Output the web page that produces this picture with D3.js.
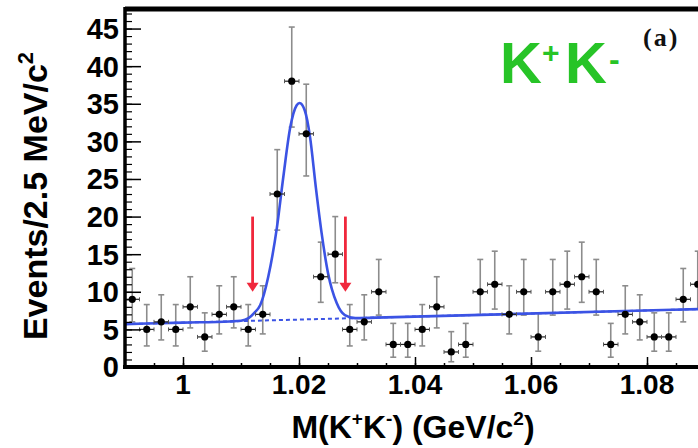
<!DOCTYPE html>
<html>
<head>
<meta charset="utf-8">
<script src="https://cdn.jsdelivr.net/npm/d3@7"></script>
<style>
  body { margin: 0; background: #fff; }
  svg { display: block; }
  text { font-family: "Liberation Sans", Arial, sans-serif; font-weight: bold; }
</style>
</head>
<body>
<svg id="chart" width="698" height="448"></svg>
<script>
// Data (2.5 MeV bins)
const massBins = [0.99125, 0.99375, 0.99625, 0.99875, 1.00125, 1.00375, 1.00625, 1.00875,
  1.01125, 1.01375, 1.01625, 1.01875, 1.02125, 1.02375, 1.02625, 1.02875, 1.03125, 1.03375,
  1.03625, 1.03875, 1.04125, 1.04375, 1.04625, 1.04875, 1.05125, 1.05375, 1.05625, 1.05875,
  1.06125, 1.06375, 1.06625, 1.06875, 1.07125, 1.07375, 1.07625, 1.07875, 1.08125, 1.08375,
  1.08625, 1.08875]
const counts = [9, 5, 6, 5, 8, 4, 7, 8, 5, 7, 23, 38, 31, 12, 15, 5, 6, 10, 3, 3,
  5, 8, 2, 3, 10, 11, 7, 10, 4, 10, 11, 12, 10, 3, 7, 6, 4, 4, 9, 11]
const errHigh = [4.1, 3.3, 3.6, 3.3, 4.0, 3.2, 3.8, 4.0, 3.3, 3.8, 5.9, 7.2, 6.6, 4.6, 5.0, 3.3, 3.6, 4.3, 2.8, 2.8,
  3.3, 4.0, 2.7, 2.8, 4.3, 4.4, 3.8, 4.3, 3.2, 4.3, 4.4, 4.6, 4.3, 2.8, 3.8, 3.6, 3.2, 3.2, 4.1, 4.4]
const errLow = [3.0, 2.2, 2.4, 2.2, 2.8, 1.9, 2.6, 2.8, 2.2, 2.6, 4.8, 6.1, 5.6, 3.4, 3.8, 2.2, 2.4, 3.1, 1.7, 1.7,
  2.2, 2.8, 1.3, 1.7, 3.1, 3.3, 2.6, 3.1, 1.9, 3.1, 3.3, 3.4, 3.1, 1.7, 2.6, 2.4, 1.9, 1.9, 3.0, 3.3]
const binWidth = 0.0025

// fit curve (total) read at points along the picture
const fitMass = [0.99, 1.0, 1.008, 1.010, 1.0113, 1.0123, 1.0133, 1.0147, 1.0162, 1.0173, 1.0185,
  1.0196, 1.0201, 1.0210, 1.0219, 1.0229, 1.0239, 1.0250, 1.0265, 1.0279, 1.0297, 1.035, 1.09]
const fitValue = [5.7, 5.9, 6.05, 6.15, 6.5, 7.2, 8.2, 12.0, 18.6, 25.3, 31.9,
  34.8, 35.1, 34.1, 30.6, 23.9, 17.8, 12.5, 8.5, 6.9, 6.5, 6.6, 7.72]
// background (dashed)
const bgMass = [0.99, 1.09]
const bgValue = [5.7, 7.72]

// signal window arrows
const arrowMass = [1.012, 1.028]
const arrowTop = 20
const arrowTip = 10

const xTicks = [1.0, 1.02, 1.04, 1.06, 1.08]
const yTicks = [0, 5, 10, 15, 20, 25, 30, 35, 40, 45]

const blue = "#3b53e4"
const red = "#f0283c"
const green = "#27c427"

const svg = d3.select("#chart")

const x = d3.scaleLinear().domain([0.99, 1.09]).range([125, 705])
const y = d3.scaleLinear().domain([0, 47.6]).range([367, 9])

svg.append("clipPath").attr("id", "plot-clip")
  .append("rect").attr("x", 125).attr("y", 9).attr("width", 580).attr("height", 358)

const plot = svg.append("g").attr("clip-path", "url(#plot-clip)")

// y axis ticks (inward)
const yAxis = d3.axisRight(y).tickValues(yTicks).tickSize(16).tickFormat("")
svg.append("g").attr("transform", "translate(125,0)").call(yAxis)
  .call(g => g.select(".domain").remove())
  .selectAll("line").attr("stroke", "#000").attr("stroke-width", 1.5)
const yMinor = d3.axisRight(y).tickValues(d3.range(0, 48, 1)).tickSize(7).tickFormat("")
svg.append("g").attr("transform", "translate(125,0)").call(yMinor)
  .call(g => g.select(".domain").remove())
  .selectAll("line").attr("stroke", "#000").attr("stroke-width", 1.2)

// x axis ticks (inward)
const xAxis = d3.axisTop(x).tickValues(xTicks).tickSize(10).tickFormat("")
svg.append("g").attr("transform", "translate(0,367)").call(xAxis)
  .call(g => g.select(".domain").remove())
  .selectAll("line").attr("stroke", "#000").attr("stroke-width", 1.5)
const xMinor = d3.axisTop(x).tickValues(d3.range(0.995, 1.09, 0.005)).tickSize(4).tickFormat("")
svg.append("g").attr("transform", "translate(0,367)").call(xMinor)
  .call(g => g.select(".domain").remove())
  .selectAll("line").attr("stroke", "#000").attr("stroke-width", 1.5)

// tick labels
svg.append("g").selectAll("text").data(yTicks).join("text")
  .attr("x", 119).attr("y", d => y(d)).attr("dy", "0.36em")
  .attr("text-anchor", "end").attr("font-size", 29)
  .text(d => d)
svg.append("g").selectAll("text").data(xTicks).join("text")
  .attr("x", d => x(d)).attr("y", 394)
  .attr("text-anchor", "middle").attr("font-size", 28)
  .text(d => d3.format("")(d))

// error bars (vertical, grey)
const bars = plot.append("g").attr("stroke", "#8c8c8c").attr("stroke-width", 1.6)
massBins.forEach((m, i) => {
  const cx = x(m)
  const top = y(counts[i] + errHigh[i])
  const bot = y(counts[i] - errLow[i])
  bars.append("line").attr("x1", cx).attr("x2", cx).attr("y1", top).attr("y2", bot)
  bars.append("line").attr("x1", cx - 3).attr("x2", cx + 3).attr("y1", top).attr("y2", top)
  bars.append("line").attr("x1", cx - 3).attr("x2", cx + 3).attr("y1", bot).attr("y2", bot)
})

// fit lines
const line = d3.line().x(d => x(d[0])).y(d => y(d[1]))
plot.append("path")
  .datum(d3.zip(bgMass, bgValue))
  .attr("d", line)
  .attr("fill", "none").attr("stroke", blue).attr("stroke-width", 2)
  .attr("stroke-dasharray", "4,3")
plot.append("path")
  .datum(d3.zip(fitMass, fitValue))
  .attr("d", line.curve(d3.curveMonotoneX))
  .attr("fill", "none").attr("stroke", blue).attr("stroke-width", 2.6)

// horizontal bars and markers
const marks = plot.append("g")
massBins.forEach((m, i) => {
  const x0 = x(m - binWidth / 2), x1 = x(m + binWidth / 2), cy = y(counts[i])
  marks.append("line").attr("x1", x0).attr("x2", x1).attr("y1", cy).attr("y2", cy)
    .attr("stroke", "#222").attr("stroke-width", 1.2)
  marks.append("line").attr("x1", x0).attr("x2", x0).attr("y1", cy - 2).attr("y2", cy + 2)
    .attr("stroke", "#555").attr("stroke-width", 1)
  marks.append("line").attr("x1", x1).attr("x2", x1).attr("y1", cy - 2).attr("y2", cy + 2)
    .attr("stroke", "#555").attr("stroke-width", 1)
  marks.append("circle").attr("cx", x(m)).attr("cy", cy).attr("r", 3.6).attr("fill", "#000")
})

// arrows
arrowMass.forEach(m => {
  const ax = x(m)
  svg.append("line").attr("x1", ax).attr("x2", ax)
    .attr("y1", y(arrowTop)).attr("y2", y(arrowTip) - 6)
    .attr("stroke", red).attr("stroke-width", 2.8)
  svg.append("path")
    .attr("d", `M${ax - 6},${y(arrowTip) - 9} L${ax + 6},${y(arrowTip) - 9} L${ax},${y(arrowTip)} Z`)
    .attr("fill", red)
})

// frame
svg.append("line").attr("x1", 125).attr("x2", 698).attr("y1", 9).attr("y2", 9)
  .attr("stroke", "#000").attr("stroke-width", 5)
svg.append("line").attr("x1", 125).attr("x2", 125).attr("y1", 7).attr("y2", 369)
  .attr("stroke", "#000").attr("stroke-width", 3.5)
svg.append("line").attr("x1", 123).attr("x2", 698).attr("y1", 367).attr("y2", 367)
  .attr("stroke", "#000").attr("stroke-width", 4)

// axis titles
const yt = svg.append("text")
  .attr("transform", "translate(47,196) rotate(-90)")
  .attr("text-anchor", "middle").attr("font-size", 34)
yt.append("tspan").text("Events/2.5 MeV/c")
yt.append("tspan").attr("font-size", 22).attr("dy", -14).text("2")

const xt = svg.append("text")
  .attr("x", 413).attr("y", 438).attr("text-anchor", "middle").attr("font-size", 32)
xt.append("tspan").text("M(K")
xt.append("tspan").attr("font-size", 19).attr("dy", -13).text("+")
xt.append("tspan").attr("dy", 13).text("K")
xt.append("tspan").attr("font-size", 19).attr("dy", -13).text("-")
xt.append("tspan").attr("dy", 13).text(") (GeV/c")
xt.append("tspan").attr("font-size", 19).attr("dy", -13).text("2")
xt.append("tspan").attr("dy", 13).text(")")

// K+K- label
svg.append("text").attr("x", 500).attr("y", 83).attr("font-size", 58).attr("fill", green).text("K")
svg.append("text").attr("x", 542).attr("y", 63).attr("font-size", 30).attr("fill", green).text("+")
svg.append("text").attr("x", 565).attr("y", 83).attr("font-size", 58).attr("fill", green).text("K")
svg.append("text").attr("x", 609).attr("y", 70).attr("font-size", 32).attr("fill", green).text("-")

svg.append("text").attr("x", 643).attr("y", 46)
  .style("font-family", "'Liberation Serif', 'Times New Roman', serif")
  .attr("font-size", 26).attr("letter-spacing", 2).attr("fill", "#111")
  .text("(a)")
</script>
</body>
</html>
